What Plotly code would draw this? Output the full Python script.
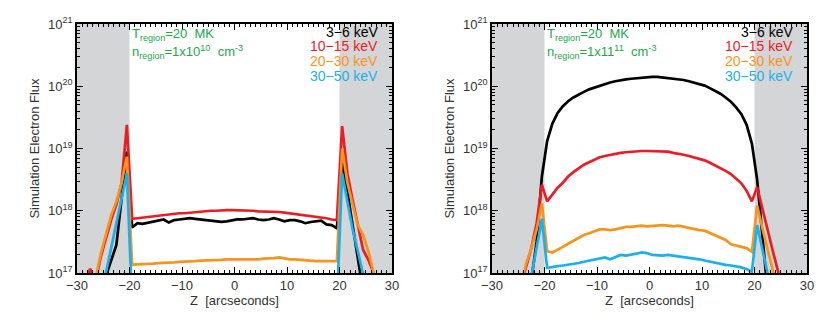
import plotly.graph_objects as go

# position along the loop (arcsec), bin centres
z = [-29.5, -28.5, -27.5, -26.5, -25.5, -24.5, -23.5, -22.5, -21.5, -20.5,
     -19.5, -18.5, -17.5, -16.5, -15.5, -14.5, -13.5, -12.5, -11.5, -10.5,
     -9.5, -8.5, -7.5, -6.5, -5.5, -4.5, -3.5, -2.5, -1.5, -0.5,
     0.5, 1.5, 2.5, 3.5, 4.5, 5.5, 6.5, 7.5, 8.5, 9.5,
     10.5, 11.5, 12.5, 13.5, 14.5, 15.5, 16.5, 17.5, 18.5, 19.5,
     20.5, 21.5, 22.5, 23.5, 24.5, 25.5, 26.5, 27.5, 28.5, 29.5]

bands = ["3\u22126 keV", "10\u221215 keV", "20\u221230 keV", "30\u221250 keV"]
band_colors = ["#000000", "#ec1c24", "#f7941d", "#1cb0ea"]

# log10 of electron flux, n = 1e10 cm^-3
left_36 = [16.5, 16.5, 16.5, 16.6, 16.7, 16.95, 17.2, 17.45, 18.2, 18.95,
           17.73, 17.80, 17.79, 17.81, 17.82, 17.84, 17.86, 17.81, 17.85, 17.86,
           17.87, 17.88, 17.87, 17.86, 17.86, 17.85, 17.84, 17.82, 17.83, 17.85,
           17.86, 17.86, 17.87, 17.88, 17.86, 17.85, 17.86, 17.88, 17.86, 17.83,
           17.85, 17.85, 17.83, 17.80, 17.82, 17.83, 17.84, 17.78, 17.77, 17.72,
           18.82, 18.3, 17.75, 17.2, 16.7, 16.5, 16.5, 16.5, 16.5, 16.5]
left_1015 = [16.5, 16.8, 17.07, 16.85, 17.25, 17.55, 17.85, 18.1, 18.45, 19.38,
             17.87, 17.88, 17.89, 17.90, 17.92, 17.93, 17.94, 17.95, 17.95, 17.96,
             17.96, 17.97, 17.98, 17.99, 18.0, 18.0, 18.0, 18.01, 18.01, 18.01,
             18.01, 18.01, 18.0, 18.0, 17.99, 17.99, 17.99, 17.98, 17.98, 17.97,
             17.96, 17.95, 17.94, 17.93, 17.92, 17.91, 17.89, 17.88, 17.86, 17.85,
             19.36, 18.6, 18.17, 17.77, 17.37, 17.21, 17.0, 16.7, 16.5, 16.5]
left_2030 = [16.5, 16.5, 16.6, 16.9, 17.3, 17.6, 17.92, 18.15, 18.45, 18.87,
             17.13, 17.14, 17.14, 17.15, 17.15, 17.16, 17.16, 17.17, 17.17, 17.18,
             17.18, 17.19, 17.19, 17.2, 17.2, 17.2, 17.21, 17.21, 17.22, 17.22,
             17.21, 17.21, 17.22, 17.22, 17.22, 17.23, 17.23, 17.24, 17.25, 17.23,
             17.22, 17.22, 17.21, 17.2, 17.2, 17.19, 17.19, 17.19, 17.19, 17.19,
             19.0, 18.45, 18.1, 17.77, 17.61, 17.35, 17.0, 16.6, 16.5, 16.5]
left_3050 = [16.5, 16.5, 16.5, 16.5, 16.5, 17.0, 17.4, 17.8, 18.2, 18.6,
             16.5, 16.5, 16.5, 16.5, 16.5, 16.5, 16.5, 16.5, 16.5, 16.5,
             16.5, 16.5, 16.5, 16.5, 16.5, 16.5, 16.5, 16.5, 16.5, 16.5,
             16.5, 16.5, 16.5, 16.5, 16.5, 16.5, 16.5, 16.5, 16.5, 16.5,
             16.5, 16.5, 16.5, 16.5, 16.5, 16.5, 16.5, 16.5, 16.5, 16.5,
             18.6, 18.15, 17.7, 17.35, 17.0, 16.6, 16.5, 16.5, 16.5, 16.5]

# log10 of electron flux, n = 1e11 cm^-3
right_36 = [16.5, 16.5, 16.5, 16.5, 16.5, 16.5, 16.5, 16.9, 17.5, 18.55,
            19.12, 19.40, 19.57, 19.68, 19.76, 19.82, 19.87, 19.91, 19.95, 19.98,
            20.01, 20.04, 20.06, 20.08, 20.10, 20.11, 20.12, 20.13, 20.14, 20.15,
            20.15, 20.15, 20.14, 20.14, 20.13, 20.12, 20.10, 20.08, 20.06, 20.04,
            20.01, 19.97, 19.93, 19.88, 19.82, 19.75, 19.66, 19.55, 19.38, 19.08,
            18.5, 17.55, 16.7, 16.5, 16.5, 16.5, 16.5, 16.5, 16.5, 16.5]
right_1015 = [16.5, 16.5, 16.5, 16.5, 16.5, 16.8, 17.1, 17.4, 17.8, 18.42,
              18.15, 18.27, 18.37, 18.45, 18.55, 18.62, 18.68, 18.74, 18.78, 18.82,
              18.86, 18.88, 18.90, 18.92, 18.93, 18.94, 18.95, 18.95, 18.96, 18.96,
              18.96, 18.95, 18.95, 18.95, 18.93, 18.92, 18.90, 18.88, 18.86, 18.84,
              18.81, 18.77, 18.73, 18.69, 18.64, 18.59, 18.52, 18.44, 18.32, 18.15,
              18.38, 18.02, 17.68, 17.35, 17.02, 16.7, 16.5, 16.5, 16.5, 16.5]
right_2030 = [16.5, 16.5, 16.5, 16.5, 16.5, 16.8, 17.15, 17.4, 17.7, 18.12,
              17.35, 17.33, 17.37, 17.42, 17.47, 17.52, 17.57, 17.61, 17.64, 17.67,
              17.70, 17.70, 17.69, 17.70, 17.72, 17.74, 17.74, 17.75, 17.76, 17.75,
              17.76, 17.77, 17.77, 17.76, 17.75, 17.76, 17.74, 17.72, 17.70, 17.69,
              17.68, 17.64, 17.60, 17.56, 17.53, 17.46, 17.44, 17.43, 17.40, 17.34,
              18.08, 17.72, 17.37, 17.02, 16.7, 16.5, 16.5, 16.5, 16.5, 16.5]
right_3050 = [16.5, 16.5, 16.5, 16.5, 16.5, 16.5, 16.5, 16.95, 17.4, 17.87,
              17.08, 17.10, 17.11, 17.12, 17.13, 17.14, 17.16, 17.18, 17.20, 17.21,
              17.24, 17.25, 17.22, 17.26, 17.29, 17.28, 17.29, 17.31, 17.33, 17.32,
              17.29, 17.28, 17.28, 17.29, 17.28, 17.27, 17.25, 17.24, 17.23, 17.22,
              17.20, 17.18, 17.17, 17.15, 17.13, 17.12, 17.11, 17.09, 17.06, 17.02,
              17.77, 17.4, 17.03, 16.6, 16.5, 16.5, 16.5, 16.5, 16.5, 16.5]

# page body adds an 8px margin, so the figure is 8px smaller than the window
W, H = 822, 315
panels = [
    dict(series=[left_36, left_1015, left_2030, left_3050], dens="10", x0=69 / W, x1=384 / W),
    dict(series=[right_36, right_1015, right_2030, right_3050], dens="11", x0=484 / W, x1=799 / W),
]
y_dom = [1 - 265 / H, 1 - 16 / H]
footpoint_edge = 20   # shaded footpoints beyond |Z| > 20 arcsec
GREEN = "#22a84a"
FONT = "Liberation Sans"
TXT = "#333"

fig = go.Figure()
maj = [10.0 ** e for e in range(17, 22)]
minor_vals = [k * 10.0 ** e for e in range(17, 21) for k in range(2, 10)]

for i, p in enumerate(panels):
    n = "" if i == 0 else str(i + 1)
    xa, ya = "x" + n, "y" + n
    for vals, name, col in zip(p["series"], bands, band_colors):
        fig.add_trace(go.Scatter(x=z, y=[10.0 ** v for v in vals], mode="lines",
                                 name=name, showlegend=False,
                                 line=dict(color=col, width=2.7),
                                 xaxis=xa, yaxis=ya))

    for (a, b) in [(-30, -footpoint_edge), (footpoint_edge, 30)]:
        fig.add_shape(type="rect", xref=xa, yref=ya + " domain", x0=a, x1=b, y0=0, y1=1,
                      fillcolor="#d4d5d7", line_width=0, layer="below")

    axis_common = dict(showline=True, linecolor="black", linewidth=1.5, mirror="allticks",
                       ticks="inside", ticklen=6, tickwidth=1, tickcolor="black",
                       showgrid=False, zeroline=False, automargin=False,
                       tickfont=dict(family=FONT, size=13, color=TXT))
    fig.layout["xaxis" + n] = dict(
        axis_common, domain=[p["x0"], p["x1"]], anchor=ya, range=[-30, 30],
        tickvals=[-30, -20, -10, 0, 10, 20, 30],
        ticktext=["\u221230", "\u221220", "\u221210", "0", "10", "20", "30"],
        minor=dict(dtick=1, ticks="inside", ticklen=3, tickcolor="black", showgrid=False),
        title=dict(text="Z  [arcseconds]", font=dict(family=FONT, size=13, color=TXT),
                   standoff=4),
    )
    fig.layout["yaxis" + n] = dict(
        axis_common, domain=y_dom, anchor=xa, type="log", range=[17, 21],
        tickvals=maj, ticktext=["10<sup>%d</sup>" % e for e in range(17, 22)],
        minor=dict(tickvals=minor_vals, ticks="inside", ticklen=3, tickcolor="black",
                   showgrid=False),
        title=dict(text="Simulation Electron Flux",
                   font=dict(family=FONT, size=13, color=TXT), standoff=6),
    )

    # energy-band labels, right aligned in the upper corner
    for k, (name, col) in enumerate(zip(bands, band_colors)):
        fig.add_annotation(xref=xa + " domain", yref=ya + " domain", x=0.962,
                           y=0.969 - k * 0.059, text=name, showarrow=False,
                           xanchor="right", yanchor="middle",
                           font=dict(family=FONT, size=14, color=col))
    fig.add_annotation(xref=xa + " domain", yref=ya + " domain", x=0.168, y=0.956,
                       text="T<sub>region</sub>=20  MK", showarrow=False,
                       xanchor="left", yanchor="middle",
                       font=dict(family=FONT, size=13, color=GREEN))
    fig.add_annotation(xref=xa + " domain", yref=ya + " domain", x=0.168, y=0.888,
                       text="n<sub>region</sub>=1x1%s<sup>%s</sup>  cm<sup>-3</sup>"
                            % ("0" if p["dens"] == "10" else "1", p["dens"]),
                       showarrow=False, xanchor="left", yanchor="middle",
                       font=dict(family=FONT, size=13, color=GREEN))

fig.update_layout(width=W, height=H, margin=dict(l=0, r=0, t=0, b=0),
                  paper_bgcolor="white", plot_bgcolor="white",
                  font=dict(family=FONT))
fig.write_html("out.html")
